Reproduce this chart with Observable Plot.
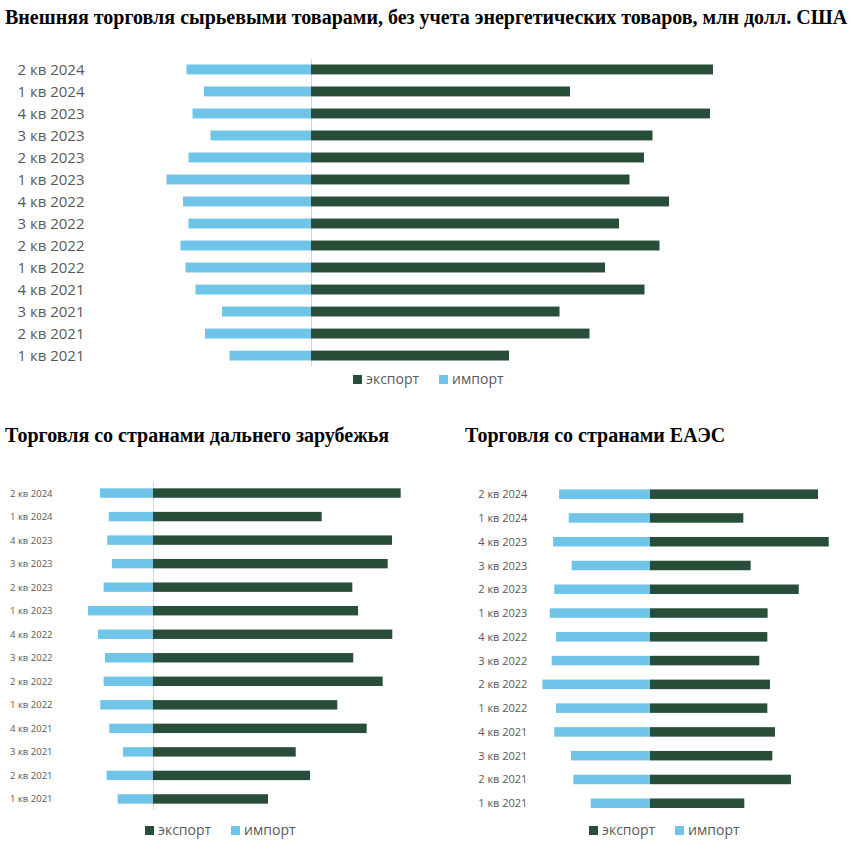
<!DOCTYPE html>
<html>
<head>
<meta charset="utf-8">
<script src="https://cdn.jsdelivr.net/npm/d3@7"></script>
<script src="https://cdn.jsdelivr.net/npm/@observablehq/plot@0.6"></script>
<style>
  html, body { margin: 0; padding: 0; background: #fff; }
  #root { position: relative; width: 861px; height: 855px; overflow: hidden; }
  .title { position: absolute; font-family: "Liberation Serif", "Times New Roman", serif; font-weight: bold; color: #000; white-space: nowrap; line-height: 22px; }
  .chart { position: absolute; }
  .legend { position: absolute; display: flex; align-items: center; font-family: "Open Sans", sans-serif; font-size: 14px; color: #595959; white-space: nowrap; line-height: 18px; }
  .legend .sw { width: 9px; height: 9px; display: inline-block; margin-right: 4px; }
  .legend .item { display: flex; align-items: center; }
  .legend .item + .item { margin-left: 20px; }
</style>
</head>
<body>
<div id="root"></div>
<script>
// ---- Data (млн долл. США), ordered top to bottom as in the chart ----
const quarters = ["2 кв 2024", "1 кв 2024", "4 кв 2023", "3 кв 2023", "2 кв 2023", "1 кв 2023", "4 кв 2022", "3 кв 2022", "2 кв 2022", "1 кв 2022", "4 кв 2021", "3 кв 2021", "2 кв 2021", "1 кв 2021"];

// Внешняя торговля сырьевыми товарами (всего)
const totalExport = [4020, 2590, 3990, 3415, 3330, 3185, 3580, 3080, 3485, 2940, 3335, 2485, 2785, 1980];
const totalImport = [1245, 1070, 1185, 1005, 1225, 1445, 1280, 1225, 1305, 1255, 1155, 890, 1060, 815];

// Торговля со странами дальнего зарубежья
const farExport = [2806, 1911, 2708, 2659, 2258, 2323, 2711, 2269, 2602, 2088, 2421, 1617, 1779, 1303];
const farImport = [600, 502, 518, 465, 559, 736, 623, 544, 559, 597, 495, 340, 525, 400];

// Торговля со странами ЕАЭС
const eaeuExport = [1210, 672, 1287, 725, 1071, 847, 845, 787, 864, 845, 900, 881, 1015, 679];
const eaeuImport = [655, 585, 698, 564, 689, 722, 677, 708, 775, 677, 689, 569, 552, 427];

const seriesNames = ["экспорт", "импорт"];
const titles = [
  "Внешняя торговля сырьевыми товарами, без учета энергетических товаров, млн долл. США",
  "Торговля со странами дальнего зарубежья",
  "Торговля со странами ЕАЭС"
];

const exportColor = "#284e3a";
const importColor = "#6fc4e8";
const labelColor = "#595959";

const root = document.getElementById("root");

function rowsOf(exp, imp) {
  return quarters.map((q, i) => ({q, exp: exp[i], imp: imp[i]}));
}

function addTitle(text, left, top, size) {
  const d = document.createElement("div");
  d.className = "title";
  d.style.left = left + "px";
  d.style.top = top + "px";
  d.style.fontSize = size + "px";
  d.textContent = text;
  root.appendChild(d);
}

function addLegend(left, top) {
  const d = document.createElement("div");
  d.className = "legend";
  d.style.left = left + "px";
  d.style.top = top + "px";
  [exportColor, importColor].forEach((c, i) => {
    const it = document.createElement("span");
    it.className = "item";
    const sw = document.createElement("span");
    sw.className = "sw";
    sw.style.background = c;
    const t = document.createElement("span");
    t.textContent = seriesNames[i];
    it.appendChild(sw);
    it.appendChild(t);
    d.appendChild(it);
  });
  root.appendChild(d);
}

function addChart(o) {
  const data = rowsOf(o.exp, o.imp);
  const marks = [];
  if (o.rule) marks.push(Plot.ruleX([0], {stroke: "#d6d6d6", strokeWidth: 1}));
  marks.push(Plot.barX(data, {y: "q", x1: 0, x2: d => -d.imp, fill: importColor}));
  marks.push(Plot.barX(data, {y: "q", x1: 0, x2: "exp", fill: exportColor}));
  const svg = Plot.plot({
    width: o.width,
    height: o.height,
    marginTop: o.marginTop,
    marginBottom: o.marginBottom,
    marginLeft: o.marginLeft,
    marginRight: o.marginRight,
    style: {fontFamily: "'Open Sans', sans-serif", fontSize: o.fontSize + "px", color: labelColor, background: "transparent"},
    x: {domain: o.xDomain, axis: null},
    y: {domain: quarters, paddingInner: o.pInner, paddingOuter: o.pOuter, round: false, tickSize: 0, tickPadding: o.tickPadding, label: null},
    marks
  });
  const wrap = document.createElement("div");
  wrap.className = "chart";
  wrap.style.left = o.left + "px";
  wrap.style.top = o.top + "px";
  wrap.appendChild(svg);
  root.appendChild(wrap);
}

// Top chart
addTitle(titles[0], 5, 6, 20);
addChart({
  exp: totalExport, imp: totalImport,
  left: 0, top: 50, width: 861, height: 318,
  marginTop: 9, marginBottom: 2, marginLeft: 111, marginRight: 50,
  xDomain: [-2000, 5000], pInner: 0.55, pOuter: 0.25,
  tickPadding: 27, fontSize: 15, rule: true
});
addLegend(353, 370);

// Bottom-left chart
addTitle(titles[1], 5, 424, 20);
addChart({
  exp: farExport, imp: farImport,
  left: 0, top: 477, width: 430, height: 336,
  marginTop: 5, marginBottom: 3, marginLeft: 64.7, marginRight: 12.2,
  xDomain: [-1000, 3000], pInner: 0.6, pOuter: 0.27,
  tickPadding: 12.7, fontSize: 9.5, rule: true
});
addLegend(145, 821);

// Bottom-right chart
addTitle(titles[2], 465, 424, 20);
addChart({
  exp: eaeuExport, imp: eaeuImport,
  left: 440, top: 478, width: 421, height: 339,
  marginTop: 5, marginBottom: 2.6, marginLeft: 98.9, marginRight: 16.6,
  xDomain: [-800, 1400], pInner: 0.6, pOuter: 0.27,
  tickPadding: 12, fontSize: 11, rule: false
});
addLegend(589, 821);
</script>
</body>
</html>
